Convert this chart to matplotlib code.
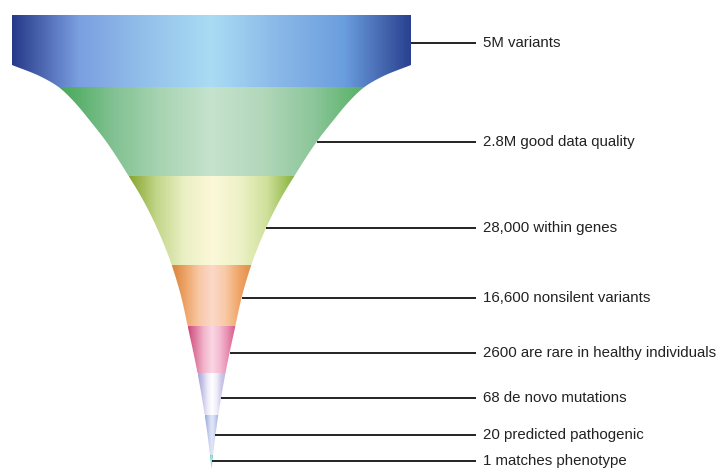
"""
Variant filtering funnel
"""

import numpy as np
import matplotlib.pyplot as plt
from matplotlib.colors import LinearSegmentedColormap
from matplotlib.patches import Polygon

plt.rcParams["font.family"] = ["Liberation Sans", "DejaVu Sans"]

# stages, top to bottom
labels = [
    "5M variants",
    "2.8M good data quality",
    "28,000 within genes",
    "16,600 nonsilent variants",
    "2600 are rare in healthy individuals",
    "68 de novo mutations",
    "20 predicted pathogenic",
    "1 matches phenotype",
]
# segment top edges (pixel rows), last value is the tip
seg_edges = [15, 87, 176, 265, 326, 373, 415, 455, 468]
# rows where the leader lines sit
label_rows = [43, 142, 228, 298, 353, 398, 435, 461]

# funnel outline: row -> half width
outline_rows = [65, 76, 87, 100, 122, 142, 175, 200, 227, 263, 298, 330, 353,
                373, 398, 417, 436, 455, 468]
outline_half = [199.5, 172, 153, 139, 120.5, 105, 83.5, 68.5, 55, 40.5, 30, 23,
                18, 14, 9.5, 6.5, 3.8, 1.5, 0.2]

seg_colors = [
    ["#263a8a", "#7b9fe0", "#93c0ea", "#aadcf4", "#8ab8e8", "#6b9ede", "#2a4190"],
    ["#46a858", "#7fc08f", "#a8d4b2", "#c6e3cd", "#b2d7ba", "#8cc69a", "#55b065"],
    ["#86a52e", "#c3d68a", "#eaf0c4", "#fcf8d8", "#eef2c8", "#cfe09a", "#86b23c"],
    ["#d9843a", "#eea468", "#f8c7a4", "#fbd8c8", "#f8caa6", "#f0a66a", "#e08e45"],
    ["#cc4a7c", "#e07ea2", "#f2b6cc", "#fad6e4", "#f4bcd2", "#e88cb0", "#d4578a"],
    ["#aaa4d6", "#c8c4e8", "#ebeaf8", "#ffffff", "#f0effa", "#ccc8ea", "#b8b3de"],
    ["#98a6da", "#b4c0e8", "#d0d8f2", "#e2e7f7", "#d2daf2", "#b6c2e8", "#a3b0e0"],
    ["#3bbfae", "#6fd0c2", "#98e0d4", "#a8e8dc", "#98e0d4", "#6fd0c2", "#3bbfae"],
]

center = 211.5


def pchip(xk, yk, x):
    # monotone cubic through the outline points
    xk = np.asarray(xk, float)
    yk = np.asarray(yk, float)
    h = np.diff(xk)
    delta = np.diff(yk) / h
    d = np.zeros_like(yk)
    d[0], d[-1] = delta[0], delta[-1]
    for j in range(1, len(xk) - 1):
        if delta[j - 1] * delta[j] > 0:
            w1 = 2 * h[j] + h[j - 1]
            w2 = h[j] + 2 * h[j - 1]
            d[j] = (w1 + w2) / (w1 / delta[j - 1] + w2 / delta[j])
    idx = np.clip(np.searchsorted(xk, x) - 1, 0, len(h) - 1)
    s = (x - xk[idx]) / h[idx]
    h00 = 2 * s**3 - 3 * s**2 + 1
    h10 = s**3 - 2 * s**2 + s
    h01 = -2 * s**3 + 3 * s**2
    h11 = s**3 - s**2
    return (h00 * yk[idx] + h10 * h[idx] * d[idx] + h01 * yk[idx + 1]
            + h11 * h[idx] * d[idx + 1])


def half_width(y):
    y = np.atleast_1d(np.asarray(y, float))
    out = pchip(outline_rows, outline_half, np.clip(y, outline_rows[0], outline_rows[-1]))
    out[y <= outline_rows[0]] = outline_half[0]
    return np.clip(out, 0.2, None)


fig = plt.figure(figsize=(7.21, 4.68), dpi=100)
ax = fig.add_axes([0, 0, 1, 1])
ax.set_xlim(0, 721)
ax.set_ylim(468, 0)
ax.axis("off")

for i in range(len(labels)):
    y0, y1 = seg_edges[i], seg_edges[i + 1]
    ys = np.linspace(y0, y1, 300)
    hw = half_width(ys)
    left = np.column_stack([center - hw, ys])
    right = np.column_stack([center + hw, ys])[::-1]
    poly = Polygon(np.vstack([left, right]), closed=True, facecolor="none",
                   edgecolor="none")
    ax.add_patch(poly)
    cmap = LinearSegmentedColormap.from_list(f"seg{i}", seg_colors[i])
    w0 = hw[0]
    grad = np.linspace(0, 1, 256).reshape(1, -1)
    im = ax.imshow(grad, cmap=cmap, aspect="auto",
                   extent=[center - w0, center + w0, y1, y0],
                   interpolation="bilinear", zorder=1)
    im.set_clip_path(poly)

# leader lines and labels
for lab, ly in zip(labels, label_rows):
    x0 = center + half_width(ly)[0]
    ax.plot([x0, 476], [ly, ly], color="#222222", lw=1.4, zorder=2,
            solid_capstyle="butt")
    ax.text(483, ly, lab, fontsize=10.8, color="#222222", va="center",
            ha="left")

ax.set_xlim(0, 721)
ax.set_ylim(468, 0)

plt.savefig("out.png", dpi=100)
